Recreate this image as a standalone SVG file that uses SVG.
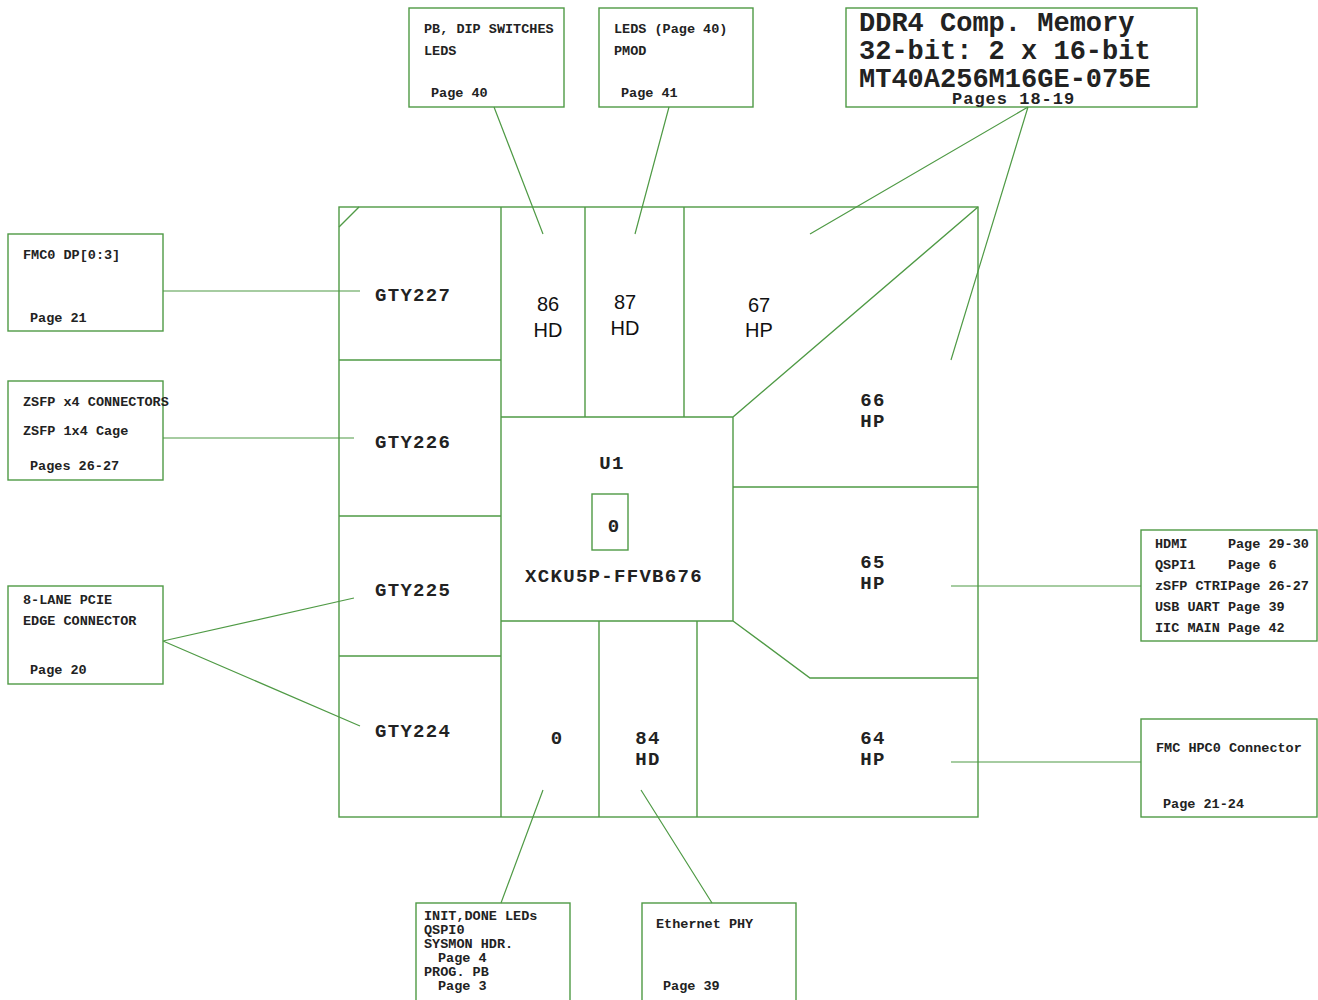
<svg xmlns="http://www.w3.org/2000/svg" width="1318" height="1000" viewBox="0 0 1318 1000">
<style>
.b{fill:none;stroke:#4f9a45;stroke-width:1.4}
.c{stroke:#4f9a45;stroke-width:1.2;fill:none}
.s{font-family:"Liberation Mono","Courier New",monospace;font-weight:bold;font-size:13.5px;fill:#222}
.m{font-family:"Liberation Mono","Courier New",monospace;font-weight:bold;font-size:19px;letter-spacing:1.3px;fill:#222}
.a{font-family:"Liberation Sans",Arial,sans-serif;font-size:20px;fill:#111}
.d{font-family:"Liberation Mono","Courier New",monospace;font-weight:bold;font-size:27px;fill:#222}
.p{white-space:pre}
</style>
<rect width="1318" height="1000" fill="#fff"/>
<g id="fpga">
<rect class="b" x="339" y="207" width="639" height="610"/>
<path class="b" d="M339 227 L359 207 M339 360 H501 M339 516 H501 M339 656 H501 M501 207 V817 M585 207 V417 M684 207 V417 M501 417 H733 V621 H501 M733 417 L978 207 M733 487 H978 M733 621 L810 678 H978 M599 621 V817 M697 621 V817"/>
<rect class="b" x="592" y="494" width="36" height="56"/>
<text class="m" x="375" y="301">GTY227</text>
<text class="m" x="375" y="448">GTY226</text>
<text class="m" x="375" y="596">GTY225</text>
<text class="m" x="375" y="737">GTY224</text>
<g class="a" text-anchor="middle">
<text x="548" y="311">86</text><text x="548" y="337">HD</text>
<text x="625" y="309">87</text><text x="625" y="335">HD</text>
<text x="759" y="312">67</text><text x="759" y="337">HP</text>
</g>
<g class="m" text-anchor="middle">
<text x="873" y="406">66</text><text x="873" y="427">HP</text>
<text x="873" y="568">65</text><text x="873" y="589">HP</text>
<text x="873" y="744">64</text><text x="873" y="765">HP</text>
<text x="648" y="744">84</text><text x="648" y="765">HD</text>
<text x="557" y="744">0</text>
<text x="612" y="469">U1</text>
<text x="614" y="532">0</text>
<text x="614" y="582">XCKU5P-FFVB676</text>
</g>
</g>
<g id="connectors">
<path class="c" d="M494 107 L543 234 M669 107 L635 234 M1028 107 L810 234 M1028 107 L951 360 M163 291 H360 M163 438 H354 M163 641 L354 598 M163 641 L360 726 M951 586 H1141 M951 762 H1141 M501 903 L543 790 M712 903 L641 790"/>
</g>
<g id="pb-dip">
<rect class="b" x="409" y="8" width="155" height="99"/>
<text class="s" x="424" y="33">PB, DIP SWITCHES</text>
<text class="s" x="424" y="55">LEDS</text>
<text class="s" x="431" y="97">Page 40</text>
</g>
<g id="leds-pmod">
<rect class="b" x="599" y="8" width="154" height="99"/>
<text class="s" x="614" y="33">LEDS (Page 40)</text>
<text class="s" x="614" y="55">PMOD</text>
<text class="s" x="621" y="97">Page 41</text>
</g>
<g id="ddr4">
<rect class="b" x="846" y="8" width="351" height="99"/>
<text class="d" x="859" y="31">DDR4 Comp. Memory</text>
<text class="d" x="859" y="59">32-bit: 2 x 16-bit</text>
<text class="d" x="859" y="87">MT40A256M16GE-075E</text>
<text class="s" x="952" y="104" style="font-size:17px;letter-spacing:1px">Pages 18-19</text>
</g>
<g id="fmc0">
<rect class="b" x="8" y="234" width="155" height="97"/>
<text class="s" x="23" y="259">FMC0 DP[0:3]</text>
<text class="s" x="30" y="322">Page 21</text>
</g>
<g id="zsfp">
<rect class="b" x="8" y="381" width="155" height="99"/>
<text class="s" x="23" y="406">ZSFP x4 CONNECTORS</text>
<text class="s" x="23" y="435">ZSFP 1x4 Cage</text>
<text class="s" x="30" y="470">Pages 26-27</text>
</g>
<g id="pcie">
<rect class="b" x="8" y="586" width="155" height="98"/>
<text class="s" x="23" y="604">8-LANE PCIE</text>
<text class="s" x="23" y="625">EDGE CONNECTOR</text>
<text class="s" x="30" y="674">Page 20</text>
</g>
<g id="hdmi">
<rect class="b" x="1141" y="530" width="176" height="111"/>
<text class="s p" x="1155" y="548">HDMI     Page 29-30</text>
<text class="s p" x="1155" y="569">QSPI1    Page 6</text>
<text class="s p" x="1155" y="590">zSFP CTRIPage 26-27</text>
<text class="s p" x="1155" y="611">USB UART Page 39</text>
<text class="s p" x="1155" y="632">IIC MAIN Page 42</text>
</g>
<g id="fmc-hpc0">
<rect class="b" x="1141" y="719" width="176" height="98"/>
<text class="s" x="1156" y="752">FMC HPC0 Connector</text>
<text class="s" x="1163" y="808">Page 21-24</text>
</g>
<g id="init">
<rect class="b" x="416" y="903" width="154" height="105"/>
<text class="s" x="424" y="920">INIT,DONE LEDs</text>
<text class="s" x="424" y="934">QSPI0</text>
<text class="s" x="424" y="948">SYSMON HDR.</text>
<text class="s" x="438" y="962">Page 4</text>
<text class="s" x="424" y="976">PROG. PB</text>
<text class="s" x="438" y="990">Page 3</text>
</g>
<g id="ethernet">
<rect class="b" x="642" y="903" width="154" height="105"/>
<text class="s" x="656" y="928">Ethernet PHY</text>
<text class="s" x="663" y="990">Page 39</text>
</g>
</svg>
